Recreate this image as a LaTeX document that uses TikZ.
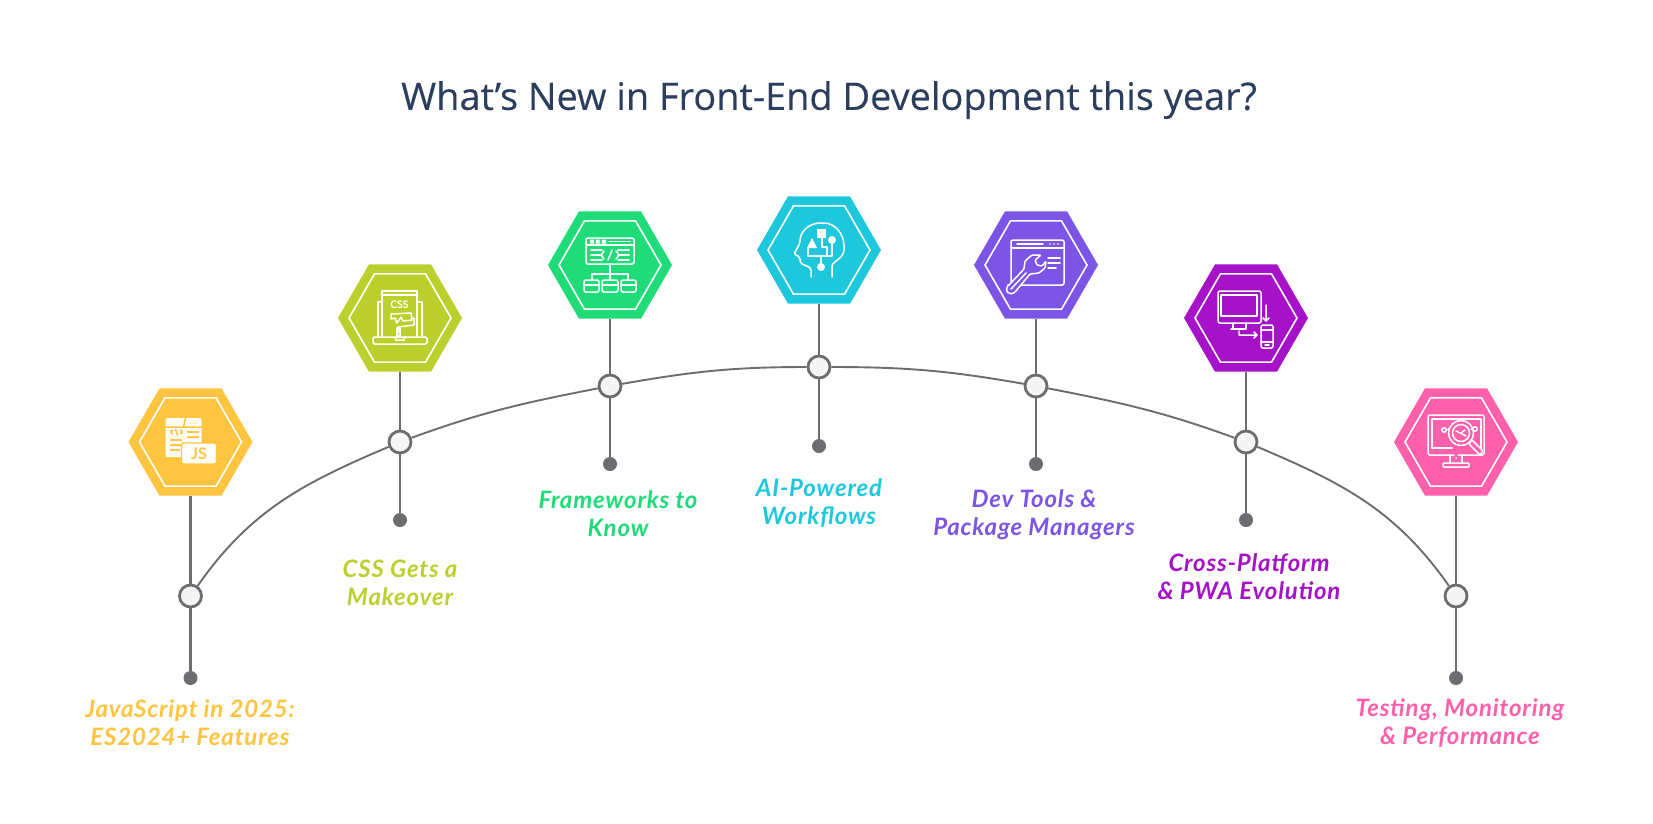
\documentclass[tikz,border=0pt]{standalone}
\usepackage{xcolor}
\usepackage{fontspec}
\setmainfont{Lato}
\newfontfamily\titlefont[FakeBold=0.25]{Open Sans}
\newfontfamily\labfont[LetterSpace=3.5]{Lato}
\usetikzlibrary{shapes.geometric}

\definecolor{jscol}{HTML}{FFC440}
\definecolor{csscol}{HTML}{BBD02C}
\definecolor{fwcol}{HTML}{20DC78}
\definecolor{aicol}{HTML}{1EC8DC}
\definecolor{devcol}{HTML}{7D55E6}
\definecolor{pwacol}{HTML}{A512C8}
\definecolor{testcol}{HTML}{FF60AC}
\definecolor{linecol}{HTML}{6B6D70}
\definecolor{titlecol}{HTML}{2C3E5E}

\tikzset{
  hexa/.style={regular polygon, regular polygon sides=6, minimum size=124pt, inner sep=0pt, outer sep=0pt, fill=#1},
  hexin/.style={regular polygon, regular polygon sides=6, minimum size=102pt, inner sep=0pt, outer sep=0pt, draw=white, line width=1.6pt},
  ring/.style={circle, minimum size=22pt, inner sep=0pt, fill=white!96!black, draw=linecol, line width=2.8pt},
  dotend/.style={circle, minimum size=14pt, inner sep=0pt, fill=linecol},
  stem/.style={draw=linecol, line width=2.4pt},
  arcline/.style={draw=linecol, line width=1.9pt},
  lab/.style={align=center, text=#1, font=\labfont\fontsize{24}{28}\selectfont\bfseries\itshape},
  icon/.style={draw=white, line width=1.5pt, line join=round, line cap=round},
}

\begin{document}
\begin{tikzpicture}[x=1pt,y=-1pt]
  \useasboundingbox (0,0) rectangle (1653,823);
  \fill[white] (0,0) rectangle (1653,823);

  \node[font=\titlefont\fontsize{37.9}{40}\selectfont, text=titlecol] (title) at (829,100) {What’s New in Front-End Development this year?};

  \node[hexa=jscol] (hexjs) at (190.5,442) {};
  \node[hexa=csscol] (hexcss) at (400,318) {};
  \node[hexa=fwcol] (hexfw) at (610,265) {};
  \node[hexa=aicol] (hexai) at (819,250) {};
  \node[hexa=devcol] (hexdev) at (1036,265) {};
  \node[hexa=pwacol] (hexpwa) at (1246,318) {};
  \node[hexa=testcol] (hextest) at (1456,442) {};

  \node[hexin] at (hexjs) {};
  \node[hexin] at (hexcss) {};
  \node[hexin] at (hexfw) {};
  \node[hexin] at (hexai) {};
  \node[hexin] at (hexdev) {};
  \node[hexin] at (hexpwa) {};
  \node[hexin] at (hextest) {};

  \node[ring] (ringjs) at (190.5,596) {};
  \node[ring] (ringcss) at (400,442) {};
  \node[ring] (ringfw) at (610,386) {};
  \node[ring] (ringai) at (819,367) {};
  \node[ring] (ringdev) at (1036,386) {};
  \node[ring] (ringpwa) at (1246,442) {};
  \node[ring] (ringtest) at (1456,596) {};

  \node[dotend] (dotjs) at (190.5,678) {};
  \node[dotend] (dotcss) at (400,520) {};
  \node[dotend] (dotfw) at (610,464) {};
  \node[dotend] (dotai) at (819,446) {};
  \node[dotend] (dotdev) at (1036,464) {};
  \node[dotend] (dotpwa) at (1246,520) {};
  \node[dotend] (dottest) at (1456,678) {};

  \draw[stem] (hexjs) -- (ringjs) (ringjs) -- (dotjs);
  \draw[stem] (hexcss) -- (ringcss) (ringcss) -- (dotcss);
  \draw[stem] (hexfw) -- (ringfw) (ringfw) -- (dotfw);
  \draw[stem] (hexai) -- (ringai) (ringai) -- (dotai);
  \draw[stem] (hexdev) -- (ringdev) (ringdev) -- (dotdev);
  \draw[stem] (hexpwa) -- (ringpwa) (ringpwa) -- (dotpwa);
  \draw[stem] (hextest) -- (ringtest) (ringtest) -- (dottest);

  \draw[arcline] (ringjs) to[out=55,in=203] (ringcss);
  \draw[arcline] (ringcss) to[out=20,in=191] (ringfw);
  \draw[arcline] (ringfw) to[out=10,in=180] (ringai);
  \draw[arcline] (ringai) to[out=0,in=170] (ringdev);
  \draw[arcline] (ringdev) to[out=-11,in=160] (ringpwa);
  \draw[arcline] (ringpwa) to[out=-23,in=125] (ringtest);

  \node[lab=jscol] (labjs) at (190,723) {JavaScript in 2025:\\ES2024+ Features};
  \node[lab=csscol] (labcss) at (400,583) {CSS Gets a\\Makeover};
  \node[lab=fwcol] (labfw) at (618,514) {Frameworks to\\Know};
  \node[lab=aicol] (labai) at (819,503) {AI-Powered\\Workflows};
  \node[lab=devcol] (labdev) at (1034,515) {Dev Tools \&\\Package Managers};
  \node[lab=pwacol] (labpwa) at (1249,577) {Cross-Platform\\\& PWA Evolution};
  \node[lab=testcol] (labtest) at (1460,723) {Testing, Monitoring\\\& Performance};

  \begin{scope}[shift={(hexjs.center)}]
    \fill[white, rounded corners=1.5pt] (-25,-24) rectangle (11,15);
    \draw[icon, draw=jscol] (-25,-15) -- (11,-15) (-5,-24) -- (-7,-15);
    \draw[icon, draw=jscol, line width=1pt] (0,-19) -- (0.1,-19) (3,-19) -- (3.1,-19) (6,-19) -- (6.1,-19);
    \draw[icon, draw=jscol] (-18,-12) -- (-20,-10) -- (-18,-8) (-10,-12) -- (-8,-10) -- (-10,-8) (-13,-7) -- (-15,-13);
    \draw[icon, draw=jscol] (-3,-10) -- (8,-10) (-3,-5) -- (8,-5) (-20,-2) -- (-9,-2) (-20,3) -- (-9,3) (-20,8) -- (-11,8);
    \draw[fill=white, draw=jscol, line width=1.4pt, rounded corners=2pt] (-9,1) rectangle (26,22);
    \node[font=\fontsize{16}{16}\selectfont\bfseries, text=jscol, inner sep=0pt] (textjs) at (8.5,11.5) {JS};
  \end{scope}

  \begin{scope}[shift={(hexcss.center)}, icon]
    \draw (-18,-16) -- (-22,-16) -- (-22,18);
    \draw (17,-16) -- (22,-16) -- (22,18);
    \draw[rounded corners=1.5pt] (-27,19) rectangle (27,26);
    \draw (-5,19) -- (-4,22) -- (4,22) -- (5,19);
    \draw (-18,19) -- (-18,-27) -- (17,-27) -- (17,19);
    \draw (-18,-23) -- (17,-23);
    \node[font=\fontsize{10.5}{10.5}\selectfont\bfseries, text=white, inner sep=0pt] (textcss) at (-0.5,-13) {CSS};
    \draw (-9,-4) -- (11,-5) -- (12,2) -- (3,3) -- (1,-1) -- (-3,5) -- (-5,0) -- (-9,1) -- cycle;
    \draw (12,0) -- (14,0) -- (14,7) -- (-2,9) -- (-2,14);
    \draw (-3,10) rectangle (0,18);
  \end{scope}

  \begin{scope}[shift={(hexfw.center)}, icon]
    \draw[rounded corners=2pt] (-24,-27) rectangle (24,-1);
    \draw (-24,-20) -- (24,-20);
    \fill[white] (-20,-25.5) rectangle (-16,-21.5) (-14,-25.5) rectangle (-10,-21.5) (-8,-25.5) rectangle (-4,-21.5);
    \draw (-1,-23.5) -- (20,-23.5);
    \draw (-19,-15) -- (-8,-15) (-19,-10) -- (-8,-10) (-19,-5) -- (-8,-5);
    \draw (8,-15) -- (19,-15) (8,-10) -- (19,-10) (8,-5) -- (19,-5);
    \draw (-6,-14) -- (-9,-10) -- (-6,-6) (6,-14) -- (9,-10) -- (6,-6) (2,-15) -- (-2,-5);
    \draw (0,-1) -- (0,15) (-18,9) -- (18,9) (-18,9) -- (-18,15) (18,9) -- (18,15);
    \draw[rounded corners=2pt] (-26,15) rectangle (-11,27);
    \draw[rounded corners=2pt] (-8,15) rectangle (8,27);
    \draw[rounded corners=2pt] (11,15) rectangle (26,27);
    \draw (-26,20) -- (-11,20) (-8,20) -- (8,20) (11,20) -- (26,20);
  \end{scope}

  \begin{scope}[shift={(hexai.center)}, icon]
    \draw[rounded corners=2pt] (-8,27) -- (-8,18) -- (-19,13) -- (-19,7) -- (-25,4) -- (-19,-7) .. controls (-19,-20) and (-8,-27) .. (3,-27) .. controls (16,-27) and (25,-16) .. (25,-2) .. controls (25,8) and (13,12) .. (13,18) -- (13,27);
    \fill[white] (-2,-21) rectangle (7,-12);
    \fill[white] (-7,-12) -- (-12,-2) -- (-2,-2) -- cycle;
    \fill[white] (13,-10) circle (4pt) (2,17) circle (4pt);
    \draw (3,-12) -- (3,-3) -- (8,-3) -- (8,6) -- (-11,6) -- (-11,-2);
    \draw (13,-10) -- (13,6) -- (8,6) (2,17) -- (2,6);
  \end{scope}

  \begin{scope}[shift={(hexdev.center)}, icon]
    \draw[rounded corners=2pt] (-25,-25) rectangle (28,20);
    \draw (-25,-17) -- (28,-17) (-19,-21) -- (7,-21);
    \draw (14,-21) -- (14.1,-21) (18,-21) -- (18.1,-21) (22,-21) -- (22.1,-21);
    \draw (12,-7) -- (24,-7) (12,-2) -- (24,-2) (12,3) -- (20,3);
    \draw[fill=devcol, rounded corners=1pt] (-28,21) -- (-12,4) -- (-11,-4) -- (-4,-10) -- (5,-10) -- (-1,-5) -- (1,0) -- (6,1) -- (10,-4) -- (9,3) -- (3,8) -- (-6,9) -- (-21,27) .. controls (-26,31) and (-32,26) .. (-28,21) -- cycle;
    \draw (-25,24) -- (-10,8);
  \end{scope}

  \begin{scope}[shift={(hexpwa.center)}, icon]
    \draw[rounded corners=2pt] (-28,-27) rectangle (15,5);
    \draw (-25,-23) rectangle (11,-2);
    \draw (-13,5) -- (-13,11) (0,5) -- (0,11) (-15,11) -- (-1,11);
    \draw (20,-13) -- (20,3) (17,0) -- (20,3) (23,0) -- (20,3);
    \draw (-7,13) -- (-7,17) -- (11,17) (8,14) -- (11,17) (8,20) -- (11,17);
    \draw[rounded corners=2pt] (15,7) rectangle (27,30);
    \draw (15,12) -- (27,12) (15,24) -- (27,24) (19,27) -- (23,27);
  \end{scope}

  \begin{scope}[shift={(hextest.center)}, icon]
    \draw[rounded corners=2pt] (2,13) -- (28,13) -- (28,-27) -- (-28,-27) -- (-28,13) -- (-2,13);
    \draw (-24,-23) -- (25,-23) -- (25,6) (-24,-23) -- (-24,6) -- (-4,6);
    \draw (-6,13) -- (-6,21) (6,13) -- (6,21);
    \draw[rounded corners=1pt] (-13,21) rectangle (13,25);
    \draw (0,16) -- (0.1,16);
    \draw[fill=testcol] (5,-9) circle (12.5pt);
    \draw (5,-9) circle (8.5pt);
    \draw (0,-11) -- (10,-6) (5,-9) -- (9,-12);
    \draw[fill=testcol, rounded corners=1pt] (14,0) -- (16,-2) -- (27,9) -- (24,13) -- (13,2) -- cycle;
    \draw (-12,-12) circle (2.2pt) (19,-13) circle (2.2pt);
    \draw (-10,-12) -- (-7,-13) (17,-13) -- (15,-13);
  \end{scope}
\end{tikzpicture}
\end{document}
